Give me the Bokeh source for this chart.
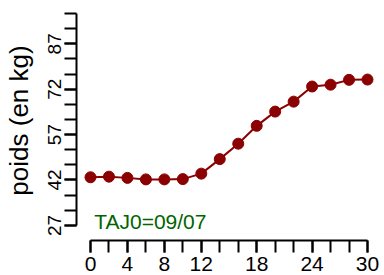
from bokeh.plotting import figure
from bokeh.models import FixedTicker, Range1d, Label
from bokeh.embed import file_html
from bokeh.resources import INLINE

# data
days = [0, 2, 4, 6, 8, 10, 12, 14, 16, 18, 20, 22, 24, 26, 28, 30]
weights = [42.9, 43.1, 42.7, 42.2, 42.2, 42.3, 44.1, 48.9, 54.0, 59.9,
           64.6, 67.9, 72.9, 73.5, 75.1, 75.2]
x_major = [0, 4, 8, 12, 18, 24, 30]
x_minor = list(range(0, 31, 2))
y_major = [27, 42, 57, 72, 87]
y_minor = list(range(27, 98, 5))
note_text = "TAJ0=09/07"
note_x, note_y = 0.4, 28.2

FONT = "Liberation Sans"
RED = "#8B0000"

p = figure(width=384, height=275, output_backend="svg", toolbar_location=None,
           x_range=Range1d(-1.516, 31.84), y_range=Range1d(22.0, 101.33),
           min_border_left=76, min_border_right=0, min_border_top=0,
           min_border_bottom=35)
p.grid.visible = False
p.outline_line_color = None
p.background_fill_color = "white"
p.border_fill_color = "white"

for ax, major, minor, bnd, fs in ((p.xaxis[0], x_major, x_minor, (0, 30), "21px"),
                                  (p.yaxis[0], y_major, y_minor, (27, 97), "19px")):
    ax.ticker = FixedTicker(ticks=major, minor_ticks=minor)
    ax.bounds = bnd
    ax.axis_line_width = 2
    ax.axis_line_color = "black"
    ax.major_tick_line_width = 2
    ax.minor_tick_line_width = 2
    ax.major_tick_in = 0
    ax.minor_tick_in = 0
    ax.major_tick_out = 12
    ax.minor_tick_out = 12
    ax.major_label_text_font = FONT
    ax.major_label_text_font_size = fs
    ax.major_label_text_color = "black"
    ax.major_label_standoff = 4

p.yaxis.major_label_orientation = "vertical"
p.yaxis.major_label_standoff = 3
p.yaxis.axis_label = "poids (en kg)"
p.yaxis.axis_label_text_font = FONT
p.yaxis.axis_label_text_font_size = "26px"
p.yaxis.axis_label_text_font_style = "normal"
p.yaxis.axis_label_text_color = "black"
p.yaxis.axis_label_text_line_height = 1.0
p.yaxis.axis_label_standoff = 12

p.line(days, weights, line_color=RED, line_width=2)
p.scatter(days, weights, size=11, fill_color=RED, line_color=RED)

p.add_layout(Label(x=note_x, y=note_y, text=note_text, text_color="#006400",
                   text_font=FONT, text_font_size="21px", text_align="left",
                   text_baseline="alphabetic"))

open("out.html", "w").write(file_html(p, INLINE))
